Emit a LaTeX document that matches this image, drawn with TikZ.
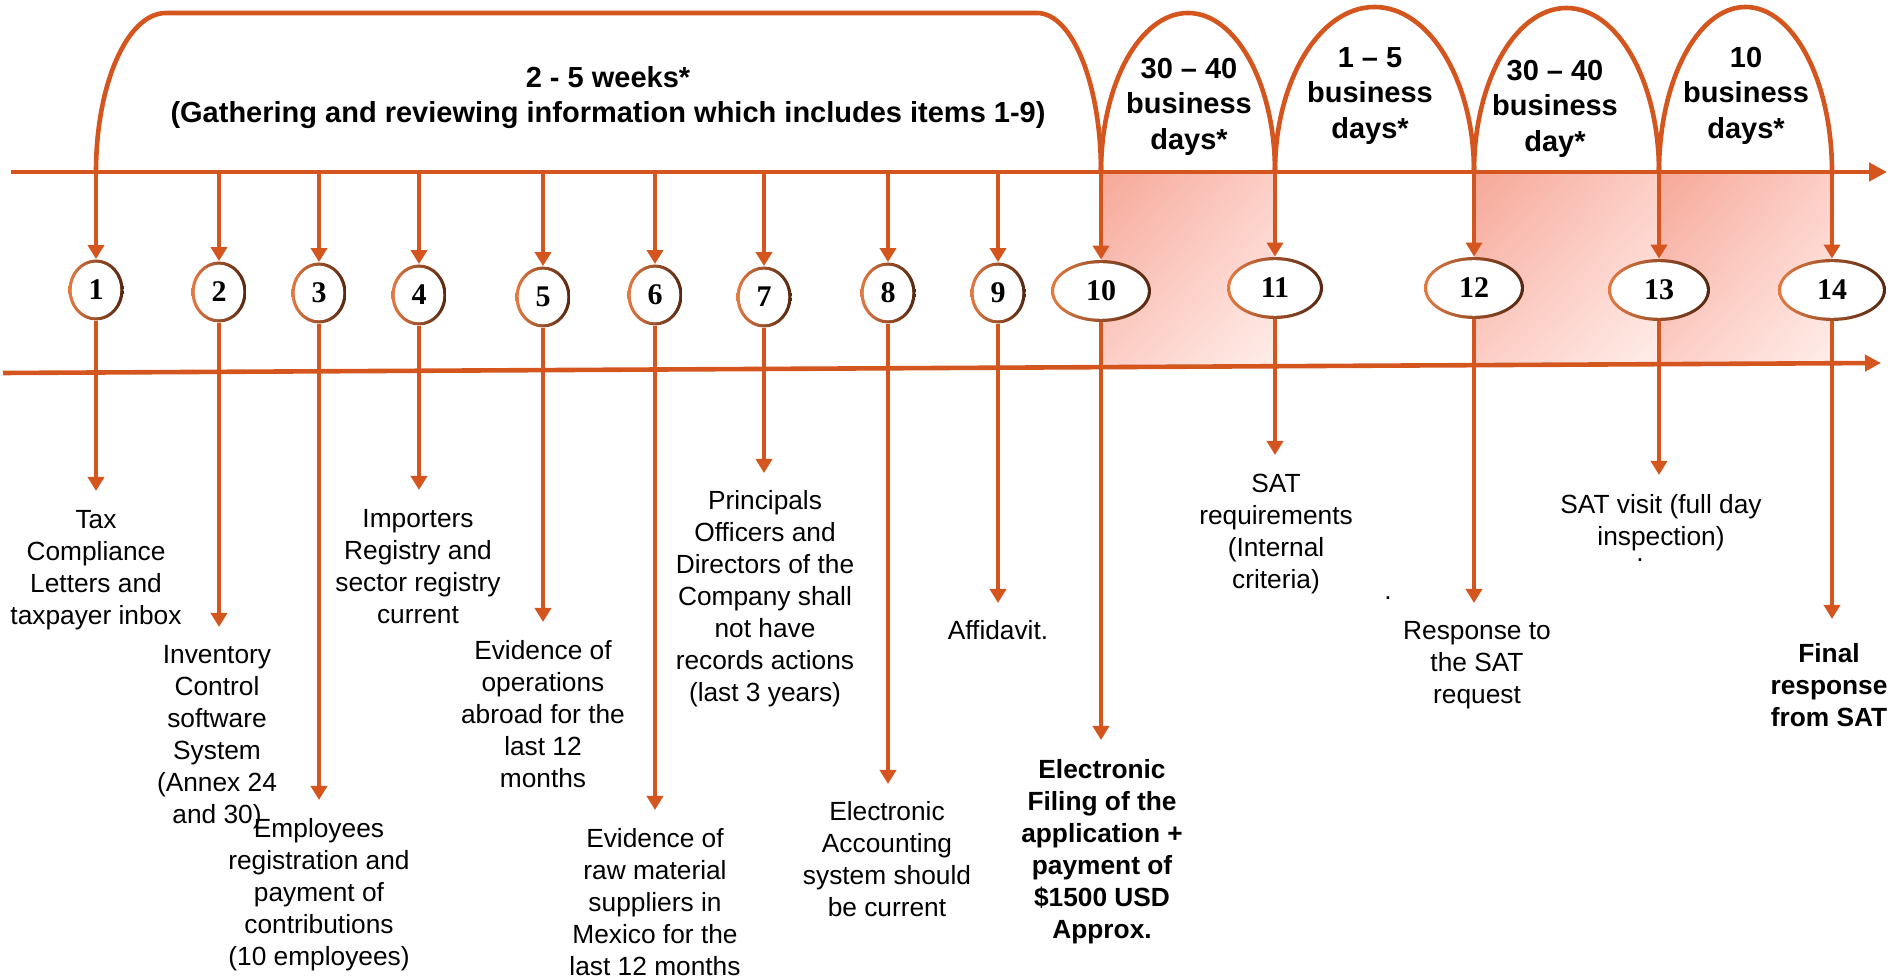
\documentclass[tikz,border=0pt]{standalone}
\usepackage{fontspec}
\setmainfont{Liberation Sans}
\newfontfamily\numfamily{Liberation Serif}
\usetikzlibrary{arrows.meta,shapes.geometric,calc,shadings}
\definecolor{lineor}{RGB}{212,86,30}
\definecolor{ringor}{RGB}{228,122,66}
\definecolor{ringdk}{RGB}{84,38,16}
\definecolor{pinkD}{RGB}{246,168,152}
\definecolor{pinkM}{RGB}{252,206,198}
\definecolor{pinkL}{RGB}{255,238,234}
\newcommand\labfont{\fontsize{13.15pt}{16pt}\selectfont}
\newcommand\spanfont{\fontsize{14.5pt}{17.75pt}\selectfont\bfseries}
\newcommand\numfontsel{\numfamily\fontsize{15pt}{18pt}\selectfont\bfseries}
\begin{document}
\begin{tikzpicture}[x=0.5pt,y=-0.5pt,
  oline/.style={draw=lineor, line width=2.3pt},
  arr/.style={oline, -{Triangle[length=7pt,width=8pt]}},
  axisarr/.style={oline, -{Triangle[length=9pt,width=9pt]}},
  ringpic/.style={path picture={
     \shade[left color=ringor, right color=ringdk]
       (path picture bounding box.south west) rectangle (path picture bounding box.north east);
     \fill[white] let \p1=($(path picture bounding box.north east)-(path picture bounding box.center)$) in
       (path picture bounding box.center) ellipse [x radius=\x1-1.6pt, y radius=\y1-1.6pt];
  }},
  numsmall/.style={ellipse, minimum width=27.5pt, minimum height=30.5pt, inner sep=0pt, font=\numfontsel, ringpic},
  numbig/.style={ellipse, minimum width=#1, minimum height=31pt, inner sep=0pt, font=\numfontsel, ringpic},
  lab/.style={anchor=north, align=center, inner sep=0pt, font=\labfont},
  blab/.style={anchor=north, align=center, inner sep=0pt, font=\labfont\bfseries},
  spanlab/.style={anchor=north, align=center, inner sep=0pt, font=\spanfont},
  period/.style={upper left=pinkD, upper right=pinkM, lower left=pinkM, lower right=pinkL},
]
\useasboundingbox (0,0) rectangle (1891,977);

% shaded periods
\shade[period] (1101,172) rectangle (1275,367);
\shade[period] (1474,172) rectangle (1659,365);
\shade[period] (1659,172) rectangle (1832,364);

% axis lines
\coordinate (tl0) at (11,172);
\coordinate (tl1) at (1887,172);
\coordinate (bl0) at (3,373);
\coordinate (bl1) at (1881,363);
\draw[axisarr] (tl0) -- (tl1);
\draw[oline, -{Triangle[length=8pt,width=8pt]}] (bl0) -- (bl1);

% points on the top line
\coordinate (t1) at (96,172);
\coordinate (t2) at (219,172);
\coordinate (t3) at (319,172);
\coordinate (t4) at (419,172);
\coordinate (t5) at (543,172);
\coordinate (t6) at (655,172);
\coordinate (t7) at (764,172);
\coordinate (t8) at (888,172);
\coordinate (t9) at (998,172);
\coordinate (t10) at (1101,172);
\coordinate (t11) at (1275,172);
\coordinate (t12) at (1474,172);
\coordinate (t13) at (1659,172);
\coordinate (t14) at (1832,172);

% arches
\draw[oline] (t1) .. controls (96,84.2) and (127.3,13) .. (166,13) -- (1037,13)
   .. controls (1072.3,13) and (1101,84.2) .. (t10);
\draw[oline] (t10) .. controls (1101,84.2) and (1139.95,13) .. (1188,13)
   .. controls (1236.05,13) and (1275,84.2) .. (t11);
\draw[oline] (t11) .. controls (1275,80.9) and (1319.55,7) .. (1374.5,7)
   .. controls (1429.45,7) and (1474,80.9) .. (t12);
\draw[oline] (t12) .. controls (1474,81.4) and (1515.4,8) .. (1566.5,8)
   .. controls (1617.6,8) and (1659,81.4) .. (t13);
\draw[oline] (t13) .. controls (1659,80.9) and (1697.7,7) .. (1745.5,7)
   .. controls (1793.3,7) and (1832,80.9) .. (t14);

% period labels
\node[spanlab] (s0) at (608,62) {\strut 2 - 5 weeks*\\(Gathering and reviewing information which includes items 1-9)};
\node[spanlab] (s1) at (1189,53) {\strut 30 – 40\\business\\days*};
\node[spanlab] (s2) at (1370,42) {\strut 1 – 5\\business\\days*};
\node[spanlab] (s3) at (1555,55) {\strut 30 – 40\\business\\day*};
\node[spanlab] (s4) at (1746,42) {\strut 10\\business\\days*};

% numbered ellipses
\node[numsmall] (c1) at (96,290) {1};
\node[numsmall] (c2) at (219,292) {2};
\node[numsmall] (c3) at (319,293) {3};
\node[numsmall] (c4) at (419,295) {4};
\node[numsmall] (c5) at (543,297) {5};
\node[numsmall] (c6) at (655,295) {6};
\node[numsmall] (c7) at (764,297) {7};
\node[numsmall] (c8) at (888,293) {8};
\node[numsmall] (c9) at (998,293) {9};
\node[numbig=50pt] (c10) at (1101,291) {10};
\node[numbig=48pt] (c11) at (1275,288) {11};
\node[numbig=50pt] (c12) at (1474,288) {12};
\node[numbig=51pt] (c13) at (1659,290) {13};
\node[numbig=54pt] (c14) at (1832,290) {14};

% arrows into ellipses
\foreach \i in {1,...,14} { \draw[arr] (t\i) -- (c\i); }

% arrow tips below
\coordinate (b1) at (96,491);
\coordinate (b2) at (219,627);
\coordinate (b3) at (319,800);
\coordinate (b4) at (419,490);
\coordinate (b5) at (543,622);
\coordinate (b6) at (655,810);
\coordinate (b7) at (764,473);
\coordinate (b8) at (888,784);
\coordinate (b9) at (998,603);
\coordinate (b10) at (1101,740);
\coordinate (b11) at (1275,455);
\coordinate (b12) at (1474,603);
\coordinate (b13) at (1659,475);
\coordinate (b14) at (1832,619);
\foreach \i in {1,...,14} { \draw[arr] (c\i) -- (b\i); }

% labels
\node[lab] (l1) at (96,506) {\strut Tax\\Compliance\\Letters and\\taxpayer inbox};
\node[lab] (l2) at (217,641) {\strut Inventory\\Control\\software\\System\\(Annex 24\\and 30)};
\node[lab] (l3) at (319,815) {\strut Employees\\registration and\\payment of\\contributions\\(10 employees)};
\node[lab] (l4) at (418,505) {\strut Importers\\Registry and\\sector registry\\current};
\node[lab] (l5) at (543,637) {\strut Evidence of\\operations\\abroad for the\\last 12\\months};
\node[lab] (l6) at (655,825) {\strut Evidence of\\raw material\\suppliers in\\Mexico for the\\last 12 months};
\node[lab] (l7) at (765,487) {\strut Principals\\Officers and\\Directors of the\\Company shall\\not have\\records actions\\(last 3 years)};
\node[lab] (l8) at (887,798) {\strut Electronic\\Accounting\\system should\\be current};
\node[lab] (l9) at (998,617) {\strut Affidavit.};
\node[blab] (l10) at (1102,756) {\strut Electronic\\Filing of the\\application +\\payment of\\\$1500 USD\\Approx.};
\node[lab] (l11) at (1276,470) {\strut SAT\\requirements\\(Internal\\criteria)};
\node[lab] (l12) at (1477,617) {\strut Response to\\the SAT\\request};
\node[lab] (l13) at (1661,491) {\strut SAT visit (full day\\inspection)};
\node[blab] (l14) at (1829,640) {\strut Final\\response\\from SAT};

% stray dots
\node[inner sep=0pt, font=\labfont] (d1) at (1388,598) {.};
\node[inner sep=0pt, font=\labfont] (d2) at (1640,560) {.};
\end{tikzpicture}
\end{document}
